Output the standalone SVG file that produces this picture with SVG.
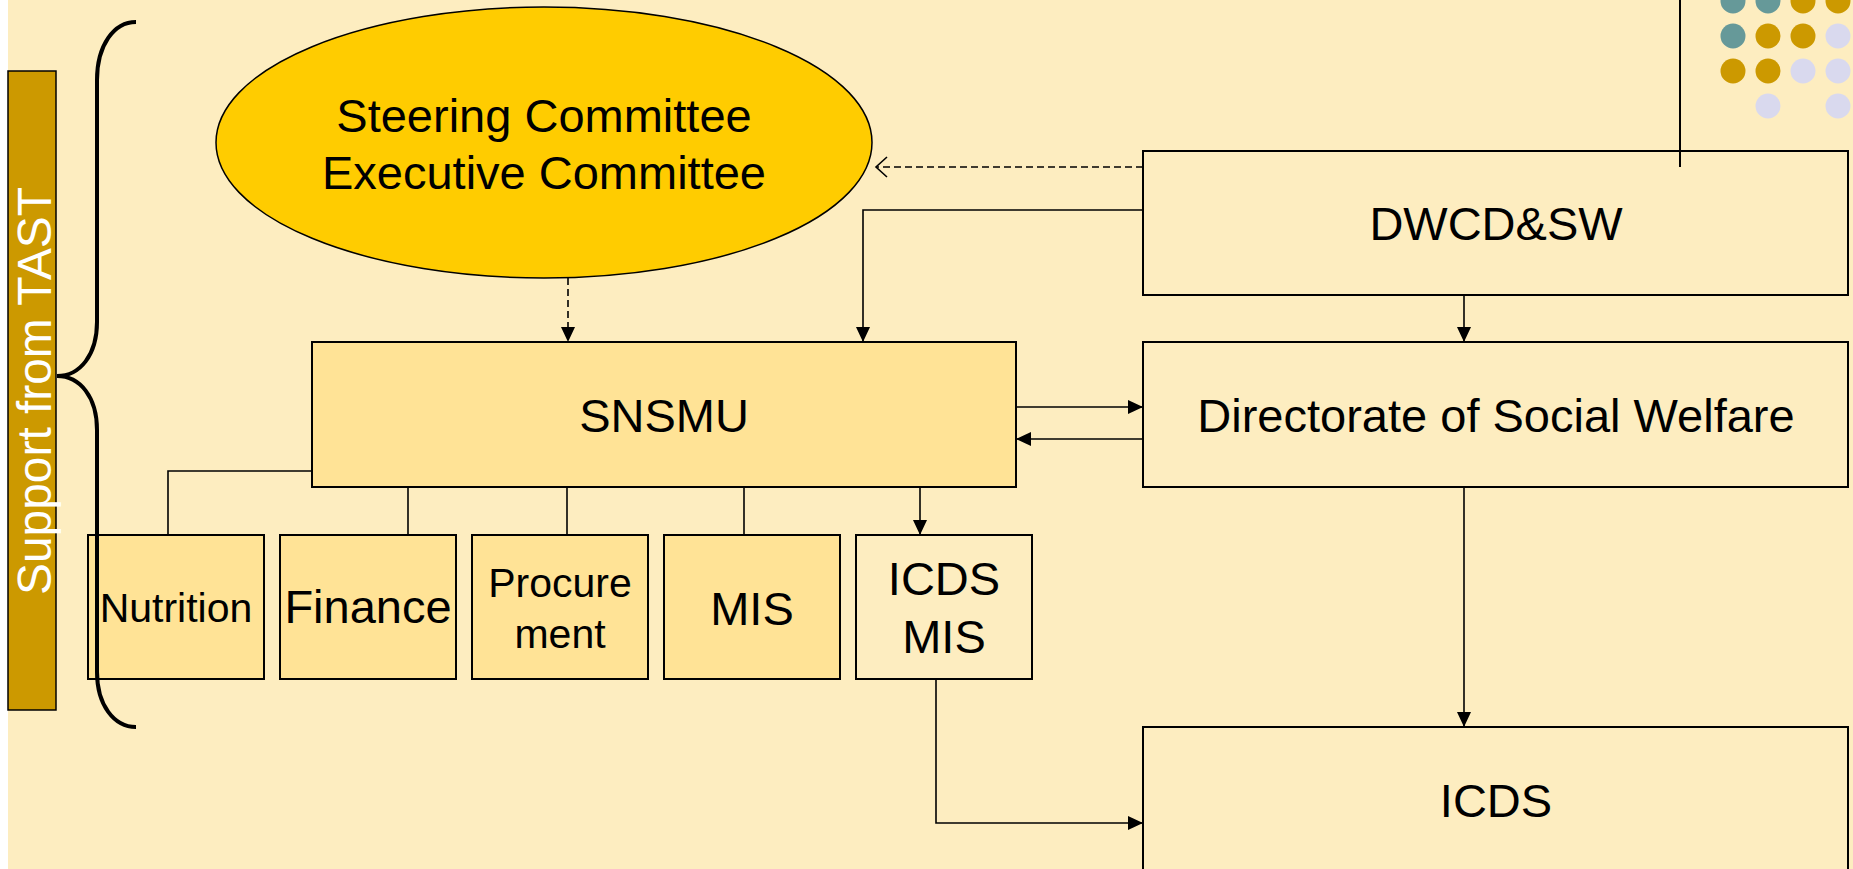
<svg xmlns="http://www.w3.org/2000/svg" width="1853" height="869" viewBox="0 0 1853 869">
<style>
.t{font-family:"Liberation Sans",Arial,sans-serif;font-size:47px;fill:#000;text-anchor:middle}
.s{font-size:41px}
.box{stroke:#000;stroke-width:2}
.sub{fill:#FFE396}
.plain{fill:#FDEDC0}
.c{fill:none;stroke:#000;stroke-width:1.6}
.d{stroke-dasharray:7 4}
.dot-t{fill:#669999}.dot-g{fill:#CC9900}.dot-l{fill:#D9D9EE}
</style>
<defs>
<marker id="a" markerUnits="userSpaceOnUse" markerWidth="15" markerHeight="14" refX="15" refY="7" orient="auto"><path d="M0,0 L15,7 L0,14 z" fill="#000"/></marker>
<marker id="o" markerUnits="userSpaceOnUse" markerWidth="14" markerHeight="24" refX="12" refY="11" orient="auto"><path d="M1,1 L12,11 L1,21" fill="none" stroke="#000" stroke-width="1.6"/></marker>
</defs>
<rect x="0" y="0" width="1853" height="869" fill="#FFFFFF"/>
<rect x="8" y="0" width="1845" height="869" fill="#FDEDC0"/>
<g id="dots">
<circle class="dot-t" cx="1733" cy="1" r="12.5"/><circle class="dot-t" cx="1768" cy="1" r="12.5"/><circle class="dot-g" cx="1803" cy="1" r="12.5"/><circle class="dot-g" cx="1838" cy="1" r="12.5"/>
<circle class="dot-t" cx="1733" cy="36" r="12.5"/><circle class="dot-g" cx="1768" cy="36" r="12.5"/><circle class="dot-g" cx="1803" cy="36" r="12.5"/><circle class="dot-l" cx="1838" cy="36" r="12.5"/>
<circle class="dot-g" cx="1733" cy="71" r="12.5"/><circle class="dot-g" cx="1768" cy="71" r="12.5"/><circle class="dot-l" cx="1803" cy="71" r="12.5"/><circle class="dot-l" cx="1838" cy="71" r="12.5"/>
<circle class="dot-l" cx="1768" cy="106" r="12.5"/><circle class="dot-l" cx="1838" cy="106" r="12.5"/>
</g>
<g id="connectors">
<path class="c d" d="M1143,167 L876,167" marker-end="url(#o)"/>
<path class="c" d="M1143,210 L863,210 L863,342" marker-end="url(#a)"/>
<path class="c d" d="M568,278 L568,342" marker-end="url(#a)"/>
<path class="c" d="M1464,295 L1464,342" marker-end="url(#a)"/>
<path class="c" d="M1016,407 L1143,407" marker-end="url(#a)"/>
<path class="c" d="M1143,439 L1016,439" marker-end="url(#a)"/>
<path class="c" d="M1464,487 L1464,727" marker-end="url(#a)"/>
<path class="c" d="M936,679 L936,823 L1143,823" marker-end="url(#a)"/>
<path class="c" d="M312,471 L168,471 L168,535"/>
<path class="c" d="M408,487 L408,535"/>
<path class="c" d="M567,487 L567,535"/>
<path class="c" d="M744,487 L744,535"/>
<path class="c" d="M920,487 L920,535" marker-end="url(#a)"/>
</g>
<g id="tast">
<rect x="8" y="71" width="48" height="639" fill="#CC9900" stroke="#000" stroke-width="1.5"/>
<text class="t" transform="translate(51,391) rotate(-90)" style="fill:#FFFFFF;font-size:48px" textLength="408" lengthAdjust="spacingAndGlyphs">Support from TAST</text>
</g>
<g id="steering">
<ellipse cx="544" cy="142.5" rx="328" ry="135.5" fill="#FFCC00" stroke="#000" stroke-width="1.5"/>
<text class="t" x="544" y="132">Steering Committee</text>
<text class="t" x="544" y="189">Executive Committee</text>
</g>
<g id="dwcd">
<rect class="box plain" x="1143" y="151" width="705" height="144"/>
<text class="t" x="1496" y="240">DWCD&amp;SW</text>
</g>
<g id="snsmu">
<rect class="box sub" x="312" y="342" width="704" height="145"/>
<text class="t" x="664" y="432">SNSMU</text>
</g>
<g id="dsw">
<rect class="box plain" x="1143" y="342" width="705" height="145"/>
<text class="t" x="1496" y="432">Directorate of Social Welfare</text>
</g>
<g id="nutrition">
<rect class="box sub" x="88" y="535" width="176" height="144"/>
<text class="t s" x="176" y="622">Nutrition</text>
</g>
<g id="finance">
<rect class="box sub" x="280" y="535" width="176" height="144"/>
<text class="t" x="368" y="623">Finance</text>
</g>
<g id="procurement">
<rect class="box sub" x="472" y="535" width="176" height="144"/>
<text class="t s" x="560" y="597">Procure</text>
<text class="t s" x="560" y="648">ment</text>
</g>
<g id="mis">
<rect class="box sub" x="664" y="535" width="176" height="144"/>
<text class="t" x="752" y="625">MIS</text>
</g>
<g id="icdsmis">
<rect class="box plain" x="856" y="535" width="176" height="144"/>
<text class="t" x="944" y="595">ICDS</text>
<text class="t" x="944" y="653">MIS</text>
</g>
<g id="icds">
<rect class="box plain" x="1143" y="727" width="705" height="160"/>
<text class="t" x="1496" y="817">ICDS</text>
</g>
<g id="decor-line">
<path d="M1680,0 L1680,167" fill="none" stroke="#000" stroke-width="2"/>
</g>
<g id="brace">
<path d="M136,22 C114,22 97,45 97,80 L97,322 C97,355 80,376 57,376 C80,376 97,397 97,430 L97,672 C97,705 114,727 136,727" fill="none" stroke="#000" stroke-width="4"/>
</g>
</svg>
